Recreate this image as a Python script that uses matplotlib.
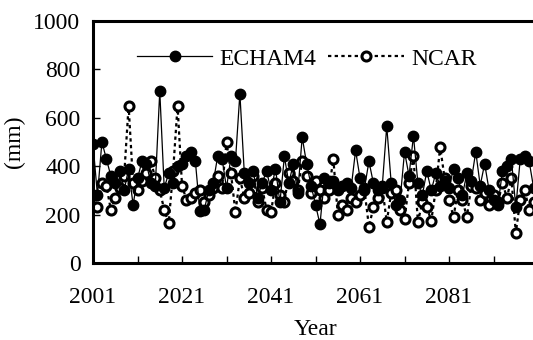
import matplotlib
matplotlib.use("Agg")
import matplotlib.pyplot as plt
import numpy as np

plt.rcParams['font.family'] = 'serif'
plt.rcParams['font.serif'] = ['Liberation Serif']

years = np.arange(2001, 2101)
echam4 = [490, 280, 500, 430, 360, 330, 380, 300, 390, 240,
          350, 420, 410, 330, 320, 710, 310, 370, 330, 400,
          410, 440, 460, 420, 215, 220, 300, 330, 440, 430,
          310, 440, 420, 700, 370, 330, 380, 270, 330, 380,
          300, 390, 250, 440, 330, 410, 290, 520, 410, 320,
          240, 160, 350, 330, 340, 300, 320, 330, 310, 465,
          350, 310, 420, 330, 300, 320, 565, 330, 240, 260,
          460, 360, 525, 330, 280, 380, 300, 370, 320, 340,
          310, 390, 350, 280, 370, 340, 460, 320, 410, 300,
          260, 240, 380, 400, 430, 230, 430, 440, 420, 310]
ncar = [280, 230, 330, 320, 220, 270, 310, 360, 650, 330,
        300, 340, 370, 420, 350, 300, 220, 165, 380, 650,
        320, 260, 270, 290, 300, 250, 280, 310, 360, 310,
        500, 370, 210, 350, 270, 290, 360, 250, 310, 220,
        210, 330, 280, 250, 370, 340, 300, 420, 360, 290,
        340, 300, 270, 300, 430, 200, 240, 220, 270, 250,
        280, 300, 150, 230, 270, 310, 170, 290, 300, 220,
        180, 330, 440, 170, 250, 230, 175, 300, 480, 350,
        260, 190, 300, 260, 190, 320, 310, 260, 290, 240,
        280, 250, 330, 270, 350, 125, 260, 300, 220, 250]
xtick_years = list(range(2001, 2101, 10))
xtick_labels = [str(y) if (y - 2001) % 20 == 0 else '' for y in xtick_years]

fig = plt.figure(figsize=(5.33, 3.4), dpi=100)
ax = fig.add_axes([0.1745, 0.2265, 0.835, 0.712])

ax.plot(years, echam4, '-', color='black', lw=0.9, marker='o',
        ms=7.5, mfc='black', mec='black', label='ECHAM4', zorder=3)
ax.plot(years, ncar, color='black', lw=1.6, ls=(0, (1.5, 1.5)),
        marker='o', ms=6.5, mfc='white', mec='black', mew=2.2,
        label='NCAR', zorder=2)

ax.set_xlim(2001, 2101)
ax.set_ylim(0, 1000)
ax.set_xticks(xtick_years)
ax.set_xticklabels(xtick_labels)
ax.set_yticks(range(0, 1001, 200))
ax.tick_params(axis='both', direction='in', length=5, width=1,
               labelsize=17)
ax.tick_params(axis='x', pad=17)
ax.tick_params(axis='y', pad=9)
for side in ['left', 'bottom', 'top']:
    ax.spines[side].set_linewidth(2.2)
ax.spines['right'].set_visible(False)

ax.set_xlabel('Year', fontsize=17, labelpad=8)
ax.set_ylabel('(mm)', fontsize=17, labelpad=6)

ax.legend(loc='upper center', bbox_to_anchor=(0.48, 0.975), ncol=2,
          frameon=False, fontsize=17, handlelength=3.2,
          columnspacing=0.5, handletextpad=0.3)

fig.savefig('out.png', dpi=100)
